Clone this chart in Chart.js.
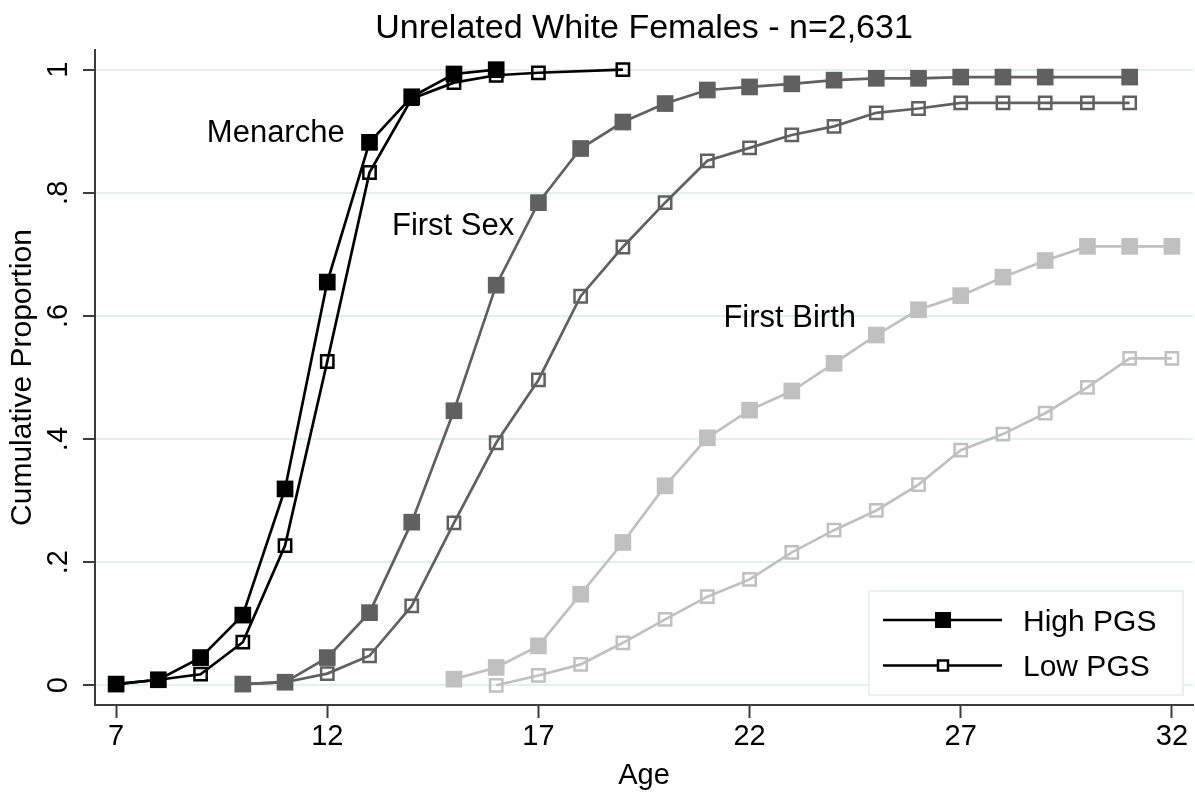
<!DOCTYPE html>
<html>
<head>
<meta charset="utf-8">
<script src="https://cdn.jsdelivr.net/npm/chart.js@4.4.1/dist/chart.umd.min.js"></script>
<style>
  html, body { margin: 0; padding: 0; background: #fff; }
</style>
</head>
<body>
<canvas id="grafico" width="1195" height="793"></canvas>
<script>
const FONT = '"Liberation Sans", Arial, Helvetica, sans-serif';

// Cumulative proportion by age, high vs low PGS
const menarcheAgesHigh = [7, 8, 9, 10, 11, 12, 13, 14, 15, 16];
const menarcheHigh     = [0.002, 0.009, 0.045, 0.114, 0.319, 0.655, 0.882, 0.956, 0.993, 1.0];
const menarcheAgesLow  = [7, 8, 9, 10, 11, 12, 13, 14, 15, 16, 17, 19];
const menarcheLow      = [0.002, 0.009, 0.018, 0.070, 0.227, 0.526, 0.833, 0.953, 0.979, 0.991, 0.995, 1.0];

const sexAgesHigh = [10, 11, 12, 13, 14, 15, 16, 17, 18, 19, 20, 21, 22, 23, 24, 25, 26, 27, 28, 29, 31];
const sexHigh     = [0.002, 0.005, 0.045, 0.118, 0.265, 0.446, 0.650, 0.784, 0.872, 0.915, 0.945, 0.967, 0.972, 0.977, 0.983, 0.986, 0.986, 0.988, 0.988, 0.988, 0.988];
const sexAgesLow  = [10, 11, 12, 13, 14, 15, 16, 17, 18, 19, 20, 21, 22, 23, 24, 25, 26, 27, 28, 29, 30, 31];
const sexLow      = [0.002, 0.005, 0.019, 0.048, 0.129, 0.264, 0.394, 0.496, 0.632, 0.712, 0.784, 0.852, 0.873, 0.894, 0.908, 0.930, 0.937, 0.946, 0.946, 0.946, 0.946, 0.946];

const birthAgesHigh = [15, 16, 17, 18, 19, 20, 21, 22, 23, 24, 25, 26, 27, 28, 29, 30, 31, 32];
const birthHigh     = [0.010, 0.029, 0.064, 0.148, 0.232, 0.324, 0.402, 0.447, 0.478, 0.523, 0.569, 0.610, 0.633, 0.663, 0.690, 0.713, 0.713, 0.713];
const birthAgesLow  = [16, 17, 18, 19, 20, 21, 22, 23, 24, 25, 26, 27, 28, 29, 30, 31, 32];
const birthLow      = [0.000, 0.016, 0.034, 0.069, 0.107, 0.144, 0.172, 0.216, 0.252, 0.284, 0.326, 0.382, 0.408, 0.442, 0.484, 0.531, 0.531];

const xTicks = [7, 12, 17, 22, 27, 32];
const yTicks = [0, 0.2, 0.4, 0.6, 0.8, 1];
const yTickLabels = ['0', '.2', '.4', '.6', '.8', '1'];

const curveLabels = ['Menarche', 'First Sex', 'First Birth'];
const curveLabelAge = [10.78, 14.98, 22.95];
const curveLabelProp = [0.9, 0.75, 0.6];

const legendLabels = ['High PGS', 'Low PGS'];
const titleText = 'Unrelated White Females - n=2,631';

const BLACK = '#000000', DARK = '#606060', LIGHT = '#c0c0c0';

function pontos(ages, vals) {
  return ages.map((a, i) => ({ x: a, y: vals[i] }));
}
function serie(ages, vals, cor, cheio) {
  return {
    data: pontos(ages, vals),
    borderColor: cor,
    borderWidth: 2.7,
    tension: 0,
    pointStyle: 'rect',
    pointRadius: cheio ? 11.8 : 8.7,
    pointHoverRadius: cheio ? 11.8 : 8.7,
    pointBorderWidth: cheio ? 0 : 2.5,
    pointBackgroundColor: cheio ? cor : 'rgba(0,0,0,0)',
    pointBorderColor: cor
  };
}

// textos e legenda desenhados sobre o gráfico
const extras = {
  id: 'extras',
  afterDraw(chart) {
    const { ctx, chartArea, scales } = chart;
    ctx.save();
    ctx.fillStyle = '#000';
    ctx.textAlign = 'center';
    ctx.textBaseline = 'alphabetic';
    ctx.font = '34px ' + FONT;
    ctx.fillText(titleText, (chartArea.left + chartArea.right) / 2, 38);

    ctx.font = '31px ' + FONT;
    curveLabels.forEach((t, i) => {
      ctx.fillText(t, scales.x.getPixelForValue(curveLabelAge[i]), scales.y.getPixelForValue(curveLabelProp[i]) + 11);
    });

    // legenda
    const bw = 314, bh = 104;
    const bx = chartArea.right - 10 - bw, by = chartArea.bottom - 10 - bh;
    ctx.fillStyle = '#fff';
    ctx.fillRect(bx, by, bw, bh);
    ctx.strokeStyle = '#e3ecee';
    ctx.lineWidth = 1.5;
    ctx.strokeRect(bx, by, bw, bh);
    ctx.font = '30px ' + FONT;
    legendLabels.forEach((t, i) => {
      const ry = by + 29 + i * 45.5;
      ctx.strokeStyle = '#000';
      ctx.lineWidth = 2.7;
      ctx.beginPath();
      ctx.moveTo(bx + 14, ry);
      ctx.lineTo(bx + 133, ry);
      ctx.stroke();
      const mx = bx + 74;
      if (i === 0) {
        ctx.fillStyle = '#000';
        ctx.fillRect(mx - 8, ry - 8, 16, 16);
      } else {
        ctx.lineWidth = 2.5;
        ctx.fillStyle = '#fff';
        ctx.fillRect(mx - 5, ry - 5, 10, 10);
        ctx.strokeRect(mx - 5, ry - 5, 10, 10);
      }
      ctx.fillStyle = '#000';
      ctx.textAlign = 'left';
      ctx.fillText(t, bx + 154, ry + 10.5);
    });
    ctx.restore();
  }
};

function semPadding(s) {
  s.paddingTop = 0; s.paddingBottom = 0; s.paddingLeft = 0; s.paddingRight = 0;
}

new Chart(document.getElementById('grafico'), {
  type: 'line',
  data: {
    datasets: [
      serie(menarcheAgesHigh, menarcheHigh, BLACK, true),
      serie(sexAgesHigh, sexHigh, DARK, true),
      serie(birthAgesHigh, birthHigh, LIGHT, true),
      serie(menarcheAgesLow, menarcheLow, BLACK, false),
      serie(sexAgesLow, sexLow, DARK, false),
      serie(birthAgesLow, birthLow, LIGHT, false)
    ]
  },
  options: {
    responsive: false,
    animation: false,
    layout: { autoPadding: false, padding: { top: 50, right: 2, left: 0, bottom: 0 } },
    plugins: { legend: { display: false }, tooltip: { enabled: false }, title: { display: false } },
    scales: {
      x: {
        type: 'linear',
        min: 6.5,
        max: 32.5,
        afterBuildTicks: s => { s.ticks = xTicks.map(v => ({ value: v })); },
        afterFit: s => { s.height = 88; semPadding(s); },
        ticks: { font: { family: FONT, size: 29 }, color: '#000', padding: 2, maxRotation: 0, autoSkip: false, callback: v => String(v) },
        grid: { drawOnChartArea: false, drawTicks: true, tickLength: 13, tickColor: '#3c3c3c', tickWidth: 2 },
        border: { color: '#3c3c3c', width: 2 },
        title: { display: true, text: 'Age', font: { family: FONT, size: 29 }, color: '#000', padding: { top: 0, bottom: 0 } }
      },
      y: {
        min: -0.032,
        max: 1.032,
        afterBuildTicks: s => { s.ticks = yTicks.map(v => ({ value: v })); },
        afterFit: s => { s.width = 95; semPadding(s); },
        ticks: { font: { family: FONT, size: 29 }, color: '#000', padding: 12, minRotation: 90, maxRotation: 90, crossAlign: 'center', autoSkip: false,
          callback: (v, i) => yTickLabels[i] },
        grid: { color: '#e4eeee', lineWidth: 2, drawTicks: true, tickLength: 12, tickColor: '#3c3c3c', tickWidth: 2 },
        border: { color: '#3c3c3c', width: 2 },
        title: { display: true, text: 'Cumulative Proportion', font: { family: FONT, size: 30 }, color: '#000', padding: { top: 5, bottom: 0 } }
      }
    }
  },
  plugins: [extras]
});
</script>
</body>
</html>
